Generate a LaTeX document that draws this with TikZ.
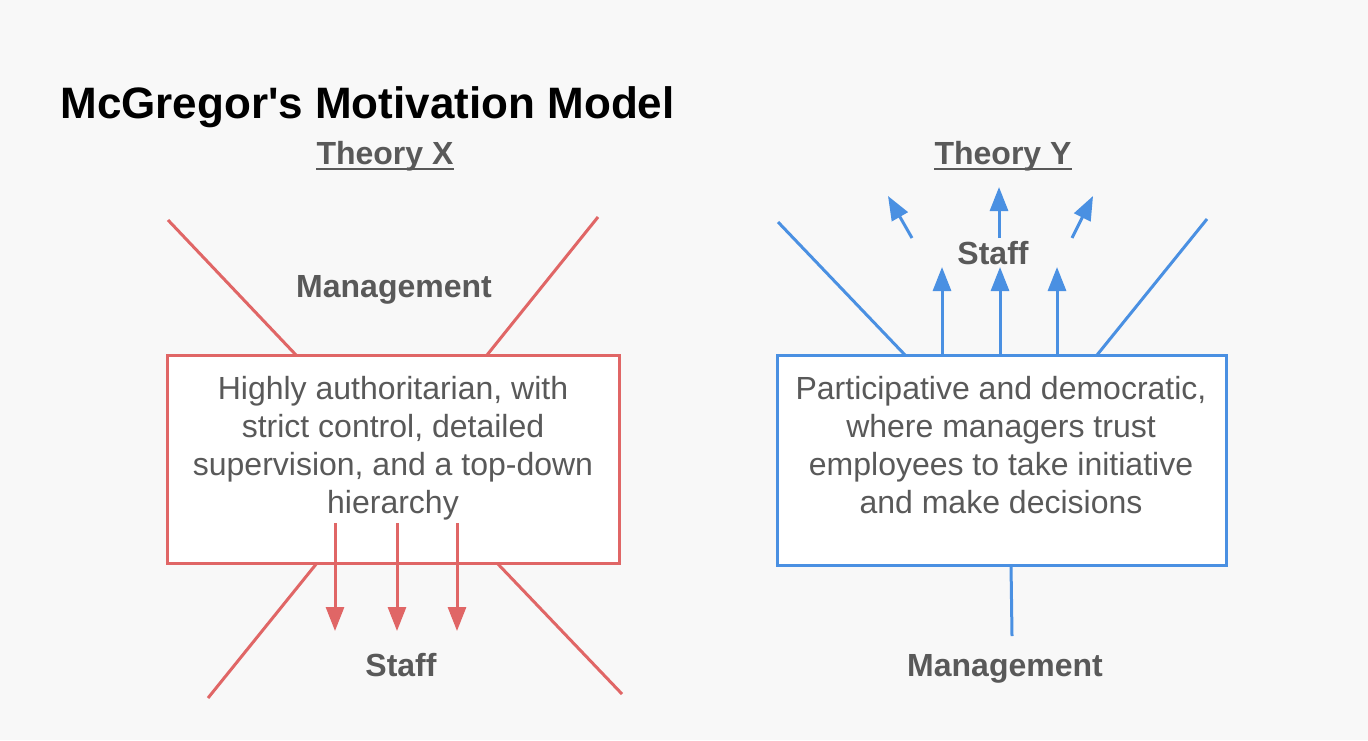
\documentclass[tikz,border=0pt]{standalone}
\usepackage{fontspec}
\setmainfont{Liberation Sans}[Ligatures=TeXOff]
\usetikzlibrary{positioning}
\usetikzlibrary{arrows.meta}
\usepackage{xcolor}

\definecolor{xred}{HTML}{E06666}
\definecolor{yblue}{HTML}{4A90E2}
\definecolor{txtgray}{HTML}{595959}
\definecolor{bggray}{HTML}{F8F8F8}

\tikzset{
  theorybox/.style={draw=#1, line width=1.5pt, fill=white, minimum width=226pt, minimum height=104pt, inner sep=0pt},
  boxtext/.style={anchor=north, inner sep=0pt, align=center, text=txtgray, font=\fontsize{16pt}{19pt}\selectfont},
  label/.style={anchor=base, inner sep=0pt, text=txtgray, font=\fontsize{16pt}{19pt}\selectfont\bfseries},
  ray/.style={line width=1.5pt},
  push/.style={line width=1.5pt, -{Triangle[length=12pt,width=9pt]}}
}

\begin{document}
\begin{tikzpicture}[x=0.5pt,y=-0.5pt]

\fill[bggray] (0,0) rectangle (1368,740);
\useasboundingbox (0,0) rectangle (1368,740);

\node[anchor=base west, inner sep=0pt, font=\fontsize{22pt}{26pt}\selectfont\bfseries] (title) at (60,118) {McGregor's Motivation Model};

% Theory X
\node[label] (thx) at (385,164) {Theory X};
\draw[txtgray, line width=1.1pt] ([yshift=-2.5pt]thx.base west) -- ([yshift=-2.5pt]thx.base east);

\coordinate (xtl) at (168,220);
\coordinate (xtle) at (296,355);
\coordinate (xtr) at (598,217);
\coordinate (xtre) at (487,355);
\coordinate (xbl) at (317,563);
\coordinate (xble) at (208,698);
\coordinate (xbr) at (497,563);
\coordinate (xbre) at (622,694);

\draw[ray, xred] (xtl) -- (xtle);
\draw[ray, xred] (xtr) -- (xtre);
\draw[ray, xred] (xbl) -- (xble);
\draw[ray, xred] (xbr) -- (xbre);

\node[theorybox=xred] (boxX) at (393,459) {};
\node[boxtext] (txtX) at (393,376) {Highly authoritarian, with\\strict control, detailed\\supervision, and a top-down\\hierarchy};

\node[label] (mgmtX) at (394,297) {Management};
\node[label] (staffX) at (401,676) {Staff};

\foreach \x in {335,397,457}
\draw[push, xred] (\x,523) -- (\x,631);

% Theory Y
\node[label] (thy) at (1003,164) {Theory Y};
\draw[txtgray, line width=1.1pt] ([yshift=-2.5pt]thy.base west) -- ([yshift=-2.5pt]thy.base east);

\coordinate (ytl) at (778,222);
\coordinate (ytle) at (905,355);
\coordinate (ytr) at (1207,219);
\coordinate (ytre) at (1097,355);
\coordinate (ybot) at (1011,565);
\coordinate (ybote) at (1012,636);

\draw[ray, yblue] (ytl) -- (ytle);
\draw[ray, yblue] (ytr) -- (ytre);
\draw[ray, yblue] (ybot) -- (ybote);

\node[theorybox=yblue, minimum width=224.5pt, minimum height=105pt] (boxY) at (1001.5,460) {};
\node[boxtext] (txtY) at (1001,376) {Participative and democratic,\\where managers trust\\employees to take initiative\\and make decisions};

\node[label] (staffY) at (993,264) {Staff};
\node[label] (mgmtY) at (1005,676) {Management};

\foreach \x in {942,1000,1057}
\draw[push, yblue] (\x,355) -- (\x,267);

\coordinate (yu1) at (912,238);
\coordinate (yu1e) at (888,196);
\coordinate (yu2) at (999,238);
\coordinate (yu2e) at (999,187);
\coordinate (yu3) at (1072,238);
\coordinate (yu3e) at (1093,196);

\draw[push, yblue] (yu1) -- (yu1e);
\draw[push, yblue] (yu2) -- (yu2e);
\draw[push, yblue] (yu3) -- (yu3e);

\end{tikzpicture}
\end{document}
